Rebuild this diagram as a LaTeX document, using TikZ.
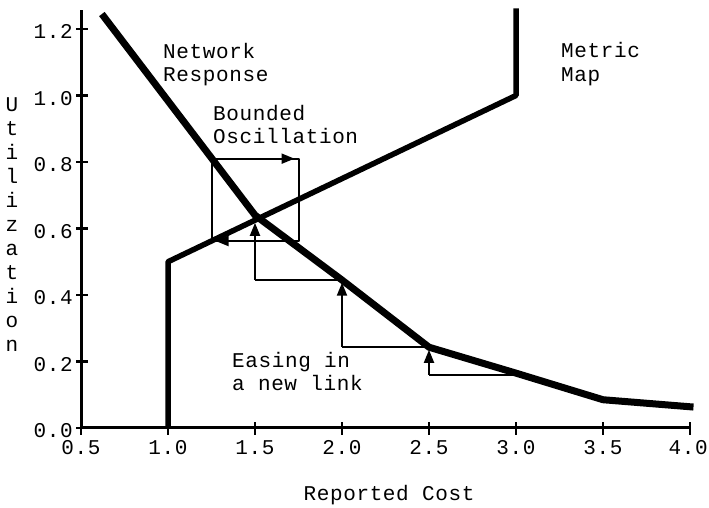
\documentclass[tikz,border=0pt]{standalone}
\usepackage{fontspec}
\setmainfont{Liberation Serif}
\newfontfamily\cour[LetterSpace=3]{Liberation Mono}
\usetikzlibrary{arrows.meta}
\tikzset{
  lbl/.style={font=\cour\fontsize{21}{24}\selectfont, inner sep=0pt, anchor=base west},
  ticklbl/.style={font=\cour\fontsize{21}{24}\selectfont, inner sep=0pt},
  axisline/.style={line width=3pt},
  tickline/.style={line width=2.5pt},
  thickcurve/.style={line width=7pt, line join=round},
  metriccurve/.style={line width=5.5pt, line join=round},
  thin/.style={line width=2pt},
  arr/.style={line width=2pt, -{Triangle[length=13pt,width=10pt]}},
}
\begin{document}
\begin{tikzpicture}
\useasboundingbox (0,0) rectangle (709pt,508pt);
\begin{scope}[x=174pt, y=332.5pt, shift={(-6pt,80pt)}]
  % axes
  \coordinate (O) at (0.5,0);
  \coordinate (Ytop) at (0.5,1.257);
  \coordinate (Xend) at (4.0,0);
  \draw[axisline] (Ytop) -- (O) -- (Xend);
  \foreach \y/\t in {0/0.0,0.2/0.2,0.4/0.4,0.6/0.6,0.8/0.8,1.0/1.0,1.2/1.2}{
    \draw[tickline] ([xshift=-5pt]0.5,\y) -- ([xshift=7pt]0.5,\y);
    \node[ticklbl, anchor=base east] (yt\t) at ([xshift=-8pt,yshift=-10pt]0.5,\y) {\t};
  }
  \foreach \x/\t in {0.5/0.5,1.0/1.0,1.5/1.5,2.0/2.0,2.5/2.5,3.0/3.0,3.5/3.5}{
    \draw[tickline] ([yshift=-7pt]\x,0) -- ([yshift=6pt]\x,0);
    \node[ticklbl, anchor=base] (xt\t) at ([yshift=-27pt]\x,0) {\t};
  }
  \draw[tickline] ([yshift=-7pt]4.0,0) -- ([yshift=6pt]4.0,0);
  \node[ticklbl, anchor=base east] (xt4.0) at ([xshift=18pt,yshift=-27pt]4.0,0) {4.0};
  % network response
  \coordinate (n0) at (0.62,1.245);
  \coordinate (n1) at (1.5,0.64);
  \coordinate (n2) at (2.0,0.445);
  \coordinate (n3) at (2.5,0.243);
  \coordinate (n4) at (3.0,0.165);
  \coordinate (n5) at (3.5,0.085);
  \coordinate (n6) at (4.02,0.063);
  \draw[thickcurve] (n0) -- (n1) -- (n2) -- (n3) -- (n4) -- (n5) -- (n6);
  % metric map
  \coordinate (m0) at (1.0,0);
  \coordinate (m1) at (1.0,0.5);
  \coordinate (m2) at (3.0,1.0);
  \coordinate (m3) at (3.0,1.262);
  \draw[metriccurve] (m0) -- (m1) -- (m2) -- (m3);
  % bounded oscillation box
  \coordinate (bBL) at (1.25,0.5625);
  \coordinate (bTL) at (1.25,0.81);
  \coordinate (bTR) at (1.75,0.81);
  \coordinate (bBR) at (1.75,0.5625);
  \draw[thin, line join=round] (bBL) -- (bTL) -- (bTR) -- (bBR) -- (bBL);
  \draw[arr] (bTL) -- ([xshift=-4pt]bTR);
  \draw[arr] (bBR) -- ([xshift=4pt]bBL);
  % easing staircase
  \coordinate (s0) at (3.0,0.16);
  \coordinate (s1) at (2.5,0.16);
  \coordinate (s1t) at (2.5,0.235);
  \coordinate (s2b) at (2.5,0.245);
  \coordinate (s2) at (2.0,0.245);
  \coordinate (s2t) at (2.0,0.437);
  \coordinate (s3b) at (2.0,0.445);
  \coordinate (s3) at (1.5,0.445);
  \coordinate (s3t) at (1.5,0.617);
  \draw[thin] (s0) -- (s1);
  \draw[arr] (s1) -- (s1t);
  \draw[thin] (s2b) -- (s2);
  \draw[arr] (s2) -- (s2t);
  \draw[thin] (s3b) -- (s3);
  \draw[arr] (s3) -- (s3t);
\end{scope}
% labels
\node[lbl] (nr1) at (163pt,449pt) {Network};
\node[lbl] (nr2) at (163pt,426pt) {Response};
\node[lbl] (mm1) at (561pt,450pt) {Metric};
\node[lbl] (mm2) at (561pt,426pt) {Map};
\node[lbl] (bo1) at (213pt,387pt) {Bounded};
\node[lbl] (bo2) at (213pt,364pt) {Oscillation};
\node[lbl] (ei1) at (232pt,140pt) {Easing in};
\node[lbl] (ei2) at (232pt,117pt) {a new link};
\node[ticklbl, anchor=base] (xl) at (389pt,7pt) {Reported Cost};
\node[ticklbl, anchor=north, align=center] (yl) at (12pt,411pt) {U\\t\\i\\l\\i\\z\\a\\t\\i\\o\\n};
\end{tikzpicture}
\end{document}
